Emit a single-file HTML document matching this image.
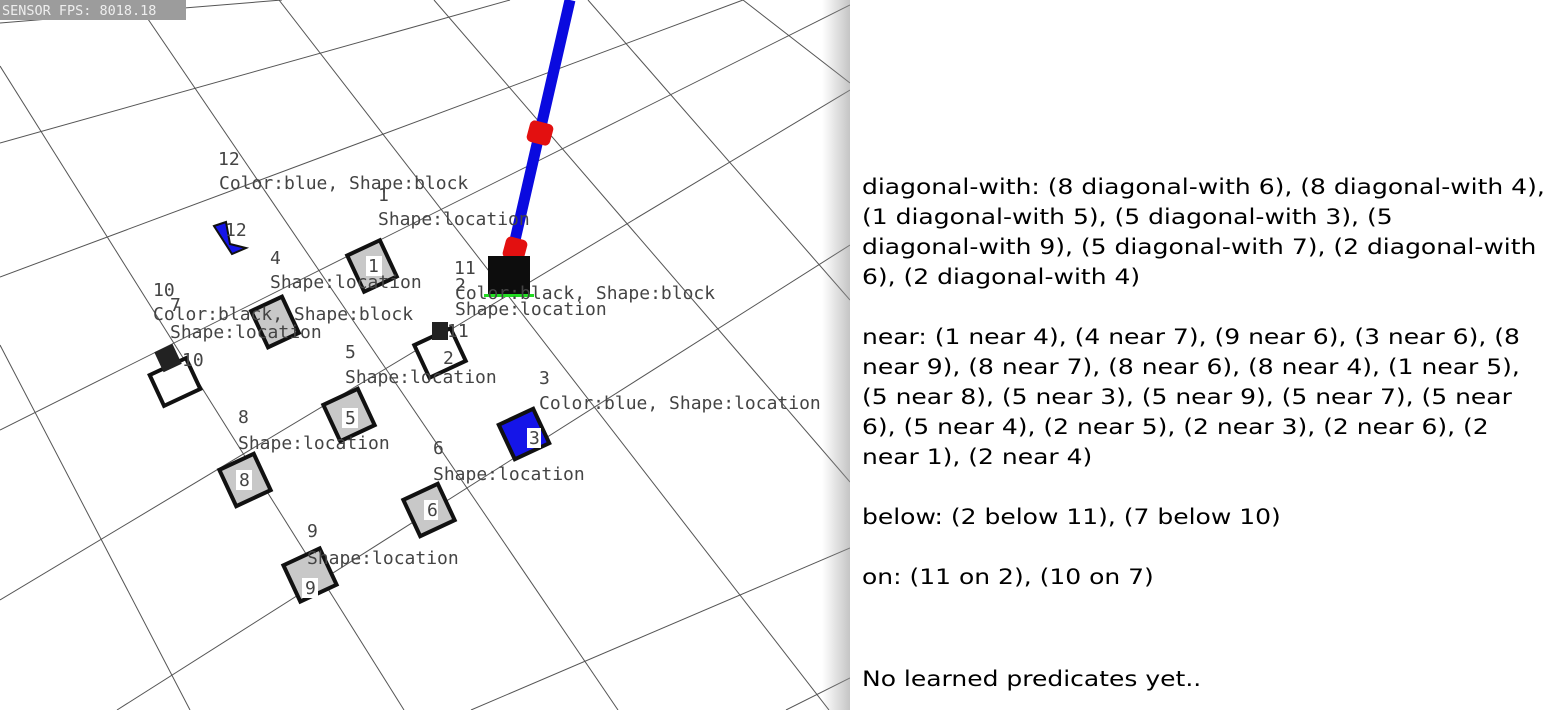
<!DOCTYPE html>
<html><head><meta charset="utf-8"><style>
html,body{margin:0;padding:0;width:1560px;height:710px;overflow:hidden;background:#fff}
#scene{position:absolute;left:0;top:0}
#panel{position:absolute;left:850px;top:0;width:710px;height:710px;background:#fff;font-family:"DejaVu Sans","Liberation Sans",sans-serif;font-size:21px;color:#000}
#panel div{position:absolute;left:12px;white-space:pre;line-height:30px;transform:scaleX(1.19);transform-origin:0 0}
#shadow{position:absolute;left:822px;top:0;width:28px;height:710px;background:linear-gradient(to right,rgba(255,255,255,0),rgba(150,150,150,0.55))}
.lbl{font-family:"DejaVu Sans Mono","Liberation Mono",monospace;font-size:18px;fill:#444}
</style></head><body>
<svg id="scene" width="850" height="710" viewBox="0 0 850 710">
<rect x="0" y="0" width="850" height="710" fill="#fff"/>
<g stroke="#555" stroke-width="1" fill="none">
<line x1="0" y1="345" x2="190" y2="710"/>
<line x1="0" y1="66" x2="404" y2="710"/>
<line x1="135" y1="0" x2="618" y2="710"/>
<line x1="279" y1="0" x2="829" y2="710"/>
<line x1="434" y1="0" x2="850" y2="482"/>
<line x1="588" y1="0" x2="850" y2="300"/>
<line x1="743" y1="0" x2="850" y2="83"/>
<line x1="0" y1="23" x2="282" y2="0"/>
<line x1="0" y1="143" x2="510" y2="0"/>
<line x1="0" y1="277" x2="743" y2="0"/>
<line x1="0" y1="430" x2="850" y2="5"/>
<line x1="0" y1="600" x2="850" y2="90"/>
<line x1="117" y1="710" x2="850" y2="245"/>
<line x1="471" y1="710" x2="850" y2="548"/>
<line x1="786" y1="710" x2="850" y2="678"/>
</g>
<g>
<line x1="570" y1="0" x2="510" y2="262" stroke="#0a0adf" stroke-width="11"/>
<rect x="528" y="122" width="24" height="22" rx="5" fill="#e31010" transform="rotate(15 540 133)"/>
<rect x="504" y="238" width="22" height="22" rx="5" fill="#e31010" transform="rotate(15 515 249)"/>
</g>
<g>
<g><rect x="354" y="246" width="36" height="40" fill="#c8c8c8" stroke="#111" stroke-width="4" transform="rotate(-25 372 266)"/><rect x="366" y="256" width="16" height="20" fill="#fff"/><text class="lbl" x="368" y="272" font-size="16">1</text></g>
<g><rect x="258" y="302" width="34" height="40" fill="#c8c8c8" stroke="#111" stroke-width="4" transform="rotate(-25 275 322)"/></g>
<g><polygon points="214,226 226,222 230,244 246,248 232,254" fill="#1515e8" stroke="#111" stroke-width="2"/><text class="lbl" x="225" y="236" font-size="16">12</text></g>
<g><rect x="155" y="365" width="40" height="34" fill="#fff" stroke="#111" stroke-width="4" transform="rotate(-25 175 382)"/><rect x="158" y="347" width="20" height="22" fill="#222" transform="rotate(-25 168 358)"/><text class="lbl" x="182" y="366" font-size="16">10</text></g>
<g><rect x="420" y="335" width="40" height="36" fill="#fff" stroke="#111" stroke-width="4" transform="rotate(-25 440 353)"/><rect x="432" y="322" width="16" height="18" fill="#222"/><text class="lbl" x="447" y="337" font-size="16">11</text><text class="lbl" x="443" y="364" font-size="16">2</text></g>
<g><rect x="330" y="395" width="38" height="40" fill="#c8c8c8" stroke="#111" stroke-width="4" transform="rotate(-25 349 415)"/><rect x="342" y="408" width="16" height="20" fill="#fff"/><text class="lbl" x="345" y="424" font-size="16">5</text></g>
<g><rect x="505" y="415" width="38" height="38" fill="#1515e8" stroke="#111" stroke-width="4" transform="rotate(-25 524 434)"/><rect x="527" y="428" width="14" height="20" fill="#fff"/><text class="lbl" x="529" y="444" font-size="16">3</text></g>
<g><rect x="226" y="460" width="38" height="40" fill="#c8c8c8" stroke="#111" stroke-width="4" transform="rotate(-25 245 480)"/><rect x="236" y="470" width="16" height="20" fill="#fff"/><text class="lbl" x="239" y="486" font-size="16">8</text></g>
<g><rect x="410" y="490" width="38" height="40" fill="#c8c8c8" stroke="#111" stroke-width="4" transform="rotate(-25 429 510)"/><rect x="424" y="500" width="14" height="20" fill="#fff"/><text class="lbl" x="427" y="516" font-size="16">6</text></g>
<g><rect x="290" y="555" width="40" height="40" fill="#c8c8c8" stroke="#111" stroke-width="4" transform="rotate(-25 310 575)"/><rect x="302" y="578" width="16" height="20" fill="#fff"/><text class="lbl" x="305" y="594" font-size="16">9</text></g>
<g><rect x="488" y="256" width="42" height="40" fill="#0d0d0d"/><rect x="484" y="294" width="50" height="3" fill="#22dd22"/></g>
</g>
<g>
<text class="lbl" x="218" y="165">12</text><text class="lbl" x="219" y="189">Color:blue, Shape:block</text>
<text class="lbl" x="378" y="201">1</text><text class="lbl" x="378" y="225">Shape:location</text>
<text class="lbl" x="270" y="264">4</text><text class="lbl" x="270" y="288">Shape:location</text>
<text class="lbl" x="454" y="274">11</text><text class="lbl" x="455" y="291">2</text><text class="lbl" x="455" y="299">Color:black, Shape:block</text><text class="lbl" x="455" y="315">Shape:location</text>
<text class="lbl" x="153" y="296">10</text><text class="lbl" x="170" y="311">7</text><text class="lbl" x="153" y="320">Color:black, Shape:block</text><text class="lbl" x="170" y="338">Shape:location</text>
<text class="lbl" x="345" y="358">5</text><text class="lbl" x="345" y="383">Shape:location</text>
<text class="lbl" x="539" y="384">3</text><text class="lbl" x="539" y="409">Color:blue, Shape:location</text>
<text class="lbl" x="238" y="423">8</text><text class="lbl" x="238" y="449">Shape:location</text>
<text class="lbl" x="433" y="454">6</text><text class="lbl" x="433" y="480">Shape:location</text>
<text class="lbl" x="307" y="537">9</text><text class="lbl" x="307" y="564">Shape:location</text>
</g>
<rect x="0" y="0" width="186" height="20" fill="#9c9c9c"/>
<text x="2" y="15" font-family="DejaVu Sans Mono, Liberation Mono, monospace" font-size="13.5" fill="#eee">SENSOR FPS: 8018.18</text>
</svg>
<div id="shadow"></div>
<div id="panel">
<div style="top:172px">diagonal-with: (8 diagonal-with 6), (8 diagonal-with 4),
(1 diagonal-with 5), (5 diagonal-with 3), (5
diagonal-with 9), (5 diagonal-with 7), (2 diagonal-with
6), (2 diagonal-with 4)</div>
<div style="top:322px">near: (1 near 4), (4 near 7), (9 near 6), (3 near 6), (8
near 9), (8 near 7), (8 near 6), (8 near 4), (1 near 5),
(5 near 8), (5 near 3), (5 near 9), (5 near 7), (5 near
6), (5 near 4), (2 near 5), (2 near 3), (2 near 6), (2
near 1), (2 near 4)</div>
<div style="top:502px">below: (2 below 11), (7 below 10)</div>
<div style="top:562px">on: (11 on 2), (10 on 7)</div>
<div style="top:664px">No learned predicates yet..</div>
</div>
</body></html>
